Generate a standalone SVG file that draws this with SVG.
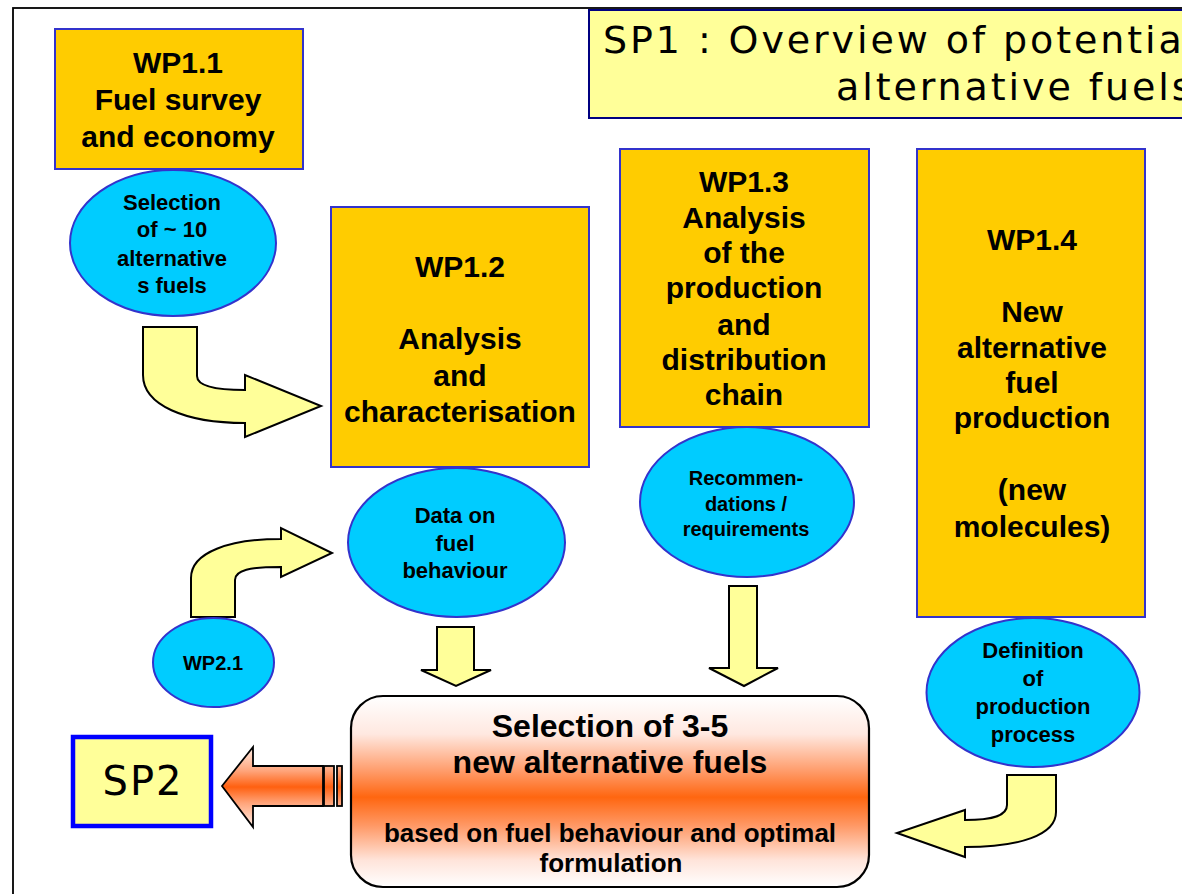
<svg xmlns="http://www.w3.org/2000/svg" width="1182" height="894" viewBox="0 0 1182 894">
<style>
.wp{fill:#FFCC00;stroke:#3333CC;stroke-width:2}
.el{fill:#00CCFF;stroke:#3333CC;stroke-width:2}
.ya{fill:#FFFF99;stroke:#000;stroke-width:2;stroke-linejoin:miter}
.b30{font-family:"Liberation Sans",Arial,sans-serif;font-weight:bold;font-size:30px;text-anchor:middle;fill:#000}
.b22{font-family:"Liberation Sans",Arial,sans-serif;font-weight:bold;font-size:22px;text-anchor:middle;fill:#000}
.b20{font-family:"Liberation Sans",Arial,sans-serif;font-weight:bold;font-size:20px;text-anchor:middle;fill:#000}
.ttl{font-family:"DejaVu Sans",Verdana,sans-serif;font-size:38px;fill:#000;letter-spacing:2.9px}
</style>
<defs>
<linearGradient id="gMain" x1="0" y1="0" x2="0" y2="1">
<stop offset="0" stop-color="#FFFFFF"/>
<stop offset="0.2" stop-color="#FFE8E0"/>
<stop offset="0.4" stop-color="#FF9966"/>
<stop offset="0.53" stop-color="#FF6610"/>
<stop offset="0.68" stop-color="#FF9966"/>
<stop offset="0.86" stop-color="#FFE4DA"/>
<stop offset="1" stop-color="#FFFFFF"/>
</linearGradient>
<linearGradient id="gArr" gradientUnits="userSpaceOnUse" x1="0" y1="747" x2="0" y2="827">
<stop offset="0" stop-color="#FFEEE6"/>
<stop offset="0.3" stop-color="#FFA47A"/>
<stop offset="0.5" stop-color="#FF6010"/>
<stop offset="0.7" stop-color="#FFA47A"/>
<stop offset="1" stop-color="#FFEEE6"/>
</linearGradient>
</defs>
<rect width="1182" height="894" fill="#FFFFFF"/>
<rect x="13" y="8" width="1200" height="920" fill="none" stroke="#000" stroke-width="1.8"/>

<g id="title">
<rect x="589" y="10" width="620" height="108" fill="#FFFF99" stroke="#000080" stroke-width="2"/>
<text class="ttl" x="603" y="53">SP1 : Overview of potentia</text>
<text class="ttl" x="836" y="100">alternative fuels</text>
</g>

<g id="connectors">
<path class="ya" d="M143,327 L197,327 L197,376 C197,386 215,390 245,390 L245,375 L321,406 L245,437 L245,423 C185,423 143,405 143,375 Z"/>
<path class="ya" d="M191,617 L191,578 C191,552 230,539 281,539 L281,528 L332,553 L281,577 L281,567 C250,567 235,570 235,580 L235,617 Z"/>
<path class="ya" d="M437,627 L474,627 L474,670 L491,670 L456,686 L421,670 L437,670 Z"/>
<path class="ya" d="M729,586 L757,586 L757,668 L778,668 L744,686 L709,668 L729,668 Z"/>
<path class="ya" d="M1007,775 L1056,775 L1056,812 C1056,835 1020,847 965,847 L965,857 L897,833 L965,810 L965,820 C995,820 1007,815 1007,805 Z"/>
<g id="toSP2">
<path d="M222,786 L253,747 L253,766 L323,766 L323,806 L253,806 L253,827 Z" fill="url(#gArr)" stroke="#000" stroke-width="1.8"/>
<rect x="324" y="766" width="10" height="40" fill="url(#gArr)" stroke="#000" stroke-width="1.8"/>
<rect x="337" y="766" width="5" height="40" fill="url(#gArr)" stroke="#000" stroke-width="1.8"/>
</g>
</g>

<g id="wp11">
<rect class="wp" x="55" y="29" width="248" height="140"/>
<text class="b30" x="178" y="73">WP1.1</text>
<text class="b30" x="178" y="110">Fuel survey</text>
<text class="b30" x="178" y="147">and economy</text>
</g>
<g id="sel10">
<ellipse class="el" cx="173" cy="243" rx="103" ry="73"/>
<text class="b22" x="172" y="210">Selection</text>
<text class="b22" x="172" y="237">of ~ 10</text>
<text class="b22" x="172" y="266">alternative</text>
<text class="b22" x="172" y="293">s fuels</text>
</g>
<g id="wp12">
<rect class="wp" x="331" y="207" width="258" height="260"/>
<text class="b30" x="460" y="277">WP1.2</text>
<text class="b30" x="460" y="349">Analysis</text>
<text class="b30" x="460" y="386">and</text>
<text class="b30" x="460" y="422">characterisation</text>
</g>
<g id="data">
<ellipse class="el" cx="456.5" cy="542.5" rx="108.5" ry="74.5"/>
<text class="b22" x="455" y="523">Data on</text>
<text class="b22" x="455" y="551">fuel</text>
<text class="b22" x="455" y="578">behaviour</text>
</g>
<g id="wp21">
<ellipse class="el" cx="213.5" cy="662.5" rx="60.5" ry="44.5"/>
<text class="b20" x="213" y="670">WP2.1</text>
</g>
<g id="wp13">
<rect class="wp" x="620" y="149" width="249" height="278"/>
<text class="b30" x="744" y="192">WP1.3</text>
<text class="b30" x="744" y="228">Analysis</text>
<text class="b30" x="744" y="263">of the</text>
<text class="b30" x="744" y="298">production</text>
<text class="b30" x="744" y="335">and</text>
<text class="b30" x="744" y="370">distribution</text>
<text class="b30" x="744" y="405">chain</text>
</g>
<g id="reco">
<ellipse class="el" cx="747" cy="502" rx="107" ry="75"/>
<text class="b20" x="746" y="485">Recommen-</text>
<text class="b20" x="746" y="511">dations /</text>
<text class="b20" x="746" y="536">requirements</text>
</g>
<g id="wp14">
<rect class="wp" x="917" y="149" width="228" height="468"/>
<text class="b30" x="1032" y="250">WP1.4</text>
<text class="b30" x="1032" y="322">New</text>
<text class="b30" x="1032" y="358">alternative</text>
<text class="b30" x="1032" y="393">fuel</text>
<text class="b30" x="1032" y="428">production</text>
<text class="b30" x="1032" y="500">(new</text>
<text class="b30" x="1032" y="537">molecules)</text>
</g>
<g id="defprod">
<ellipse class="el" cx="1033" cy="692.5" rx="106.5" ry="74.5"/>
<text class="b22" x="1033" y="658">Definition</text>
<text class="b22" x="1033" y="686">of</text>
<text class="b22" x="1033" y="714">production</text>
<text class="b22" x="1033" y="742">process</text>
</g>
<g id="selection">
<rect x="351" y="696" width="518" height="191" rx="32" ry="32" fill="url(#gMain)" stroke="#000" stroke-width="2.2"/>
<text class="b30" x="610" y="737" style="font-size:32px">Selection of 3-5</text>
<text class="b30" x="610" y="773" style="font-size:32px">new alternative fuels</text>
<text class="b30" x="610" y="842" style="font-size:26px">based on fuel behaviour and optimal</text>
<text class="b30" x="611" y="872" style="font-size:26px">formulation</text>
</g>
<g id="sp2">
<rect x="73" y="737" width="138" height="89" fill="#FFFF99" stroke="#0000FF" stroke-width="4.5"/>
<text x="143" y="795" style="font-family:'DejaVu Sans',Verdana,sans-serif;font-size:40px;text-anchor:middle;letter-spacing:2px">SP2</text>
</g>
</svg>
